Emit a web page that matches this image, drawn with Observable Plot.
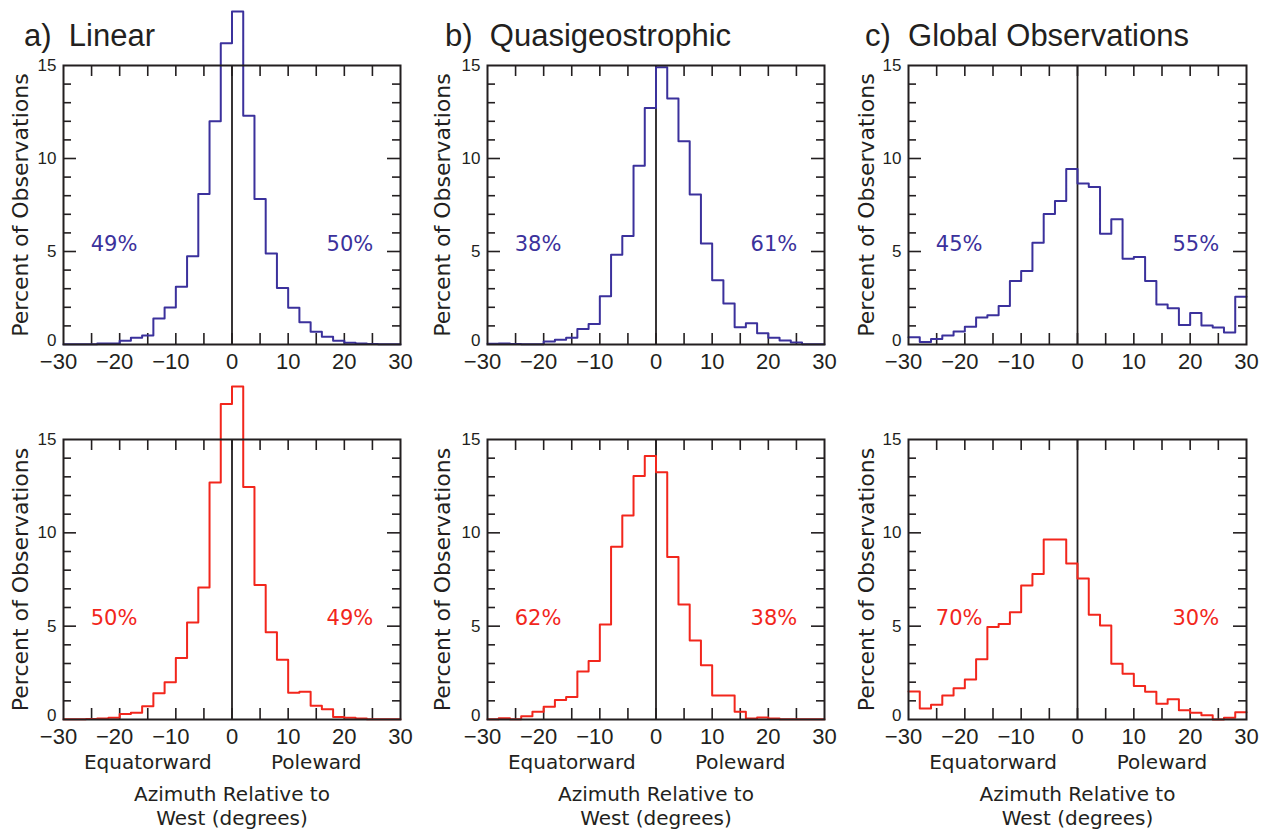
<!DOCTYPE html>
<html><head><meta charset="utf-8">
<script src="https://cdn.jsdelivr.net/npm/d3@7"></script>
<script src="https://cdn.jsdelivr.net/npm/@observablehq/plot@0.6"></script>
<style>
body{margin:0;background:#fff;}
#wrap{position:relative;width:1269px;height:830px;overflow:hidden;background:#fff;}
.panel{position:absolute;}
.title{position:absolute;font-family:"Liberation Sans",Arial,sans-serif;font-size:31px;line-height:30px;color:#231f20;white-space:pre;}
</style></head><body><div id="wrap"></div>
<script>
// ---- data ----
const binEdges = [-30,-28,-26,-24,-22,-20,-18,-16,-14,-12,-10,-8,-6,-4,-2,0,2,4,6,8,10,12,14,16,18,20,22,24,26,28,30];
const titles = ["a)  Linear", "b)  Quasigeostrophic", "c)  Global Observations"];
const topLinear = [0.02,0.02,0.02,0.06,0.06,0.2,0.36,0.48,1.4,1.99,3.1,4.74,8.09,12.0,16.2,17.9,12.3,7.82,4.89,3.04,1.97,1.2,0.68,0.41,0.2,0.09,0.05,0.03,0.02,0.02];
const topQG = [0.04,0.05,0.03,0.02,0.02,0.16,0.25,0.36,0.84,1.1,2.59,4.82,5.84,9.61,12.71,14.91,13.23,10.93,8.07,5.43,3.46,2.21,0.93,1.14,0.61,0.36,0.21,0.11,0.02,0.02];
const topGlobal = [0.39,0.13,0.3,0.48,0.7,0.95,1.45,1.57,2.07,3.41,3.95,5.47,7.01,7.72,9.44,8.65,8.47,5.95,6.74,4.61,4.7,3.41,2.15,1.95,1.05,1.7,1.02,0.91,0.64,2.57];
const botLinear = [0.02,0.02,0.03,0.05,0.09,0.29,0.36,0.71,1.41,2.0,3.3,5.2,7.07,12.7,16.9,17.84,12.46,7.21,4.68,3.2,1.43,1.48,0.73,0.55,0.13,0.09,0.05,0.02,0.02,0.02];
const botQG = [0.02,0.07,0.02,0.18,0.41,0.68,1.04,1.2,2.57,3.13,5.09,9.25,10.93,13.04,14.11,13.25,8.71,6.16,4.23,2.91,1.29,1.29,0.41,0.05,0.11,0.05,0.02,0.02,0.02,0.02];
const botGlobal = [1.5,0.59,0.79,1.29,1.68,2.14,3.23,4.95,5.11,5.75,7.18,7.79,9.64,9.64,8.36,7.55,5.61,5.04,2.98,2.45,1.79,1.48,0.84,1.09,0.5,0.36,0.23,0.0,0.09,0.39];
const topPct = [["49%","50%"],["38%","61%"],["45%","55%"]];
const botPct = [["50%","49%"],["62%","38%"],["70%","30%"]];
const xLabelTicks = [-30,-20,-10,0,10,20,30];
const xMinorTicks = [-25,-20,-15,-10,-5,0,5,10,15,20,25];
const yLabelTicks = [0,5,10,15];
const yMinorTicks = [1,2,3,4,6,7,8,9,11,12,13,14];
const yMajorTicks = [5,10];
const yLabel = "Percent of Observations";
const dirLabels = ["Equatorward","Poleward"];
const xTitle1 = "Azimuth Relative to";
const xTitle2 = "West (degrees)";

const BLUE = "#3b319c", RED = "#f2261c", INK = "#231f20";
const SANS = "Liberation Sans, Arial, sans-serif";
const DV = "DejaVu Sans, sans-serif";
const fmt = d => d < 0 ? "\u2212" + Math.abs(d) : String(d);

function panel({values, color, pct, bottom, marginLeft, marginRight, yLabelDx}) {
  const width = 423;
  const height = bottom ? 450 : 380;
  const marginTop = bottom ? 59 : 65;
  const marginBottom = bottom ? 111 : 36;
  const fw = width - marginLeft - marginRight;
  const fh = height - marginTop - marginBottom;
  const pts = binEdges.map((e, i) => ({x: e, y: values[Math.min(i, values.length - 1)]}));
  const axY = {anchor: "left", tickSize: 0, tickPadding: 7, fontSize: 17, tickFormat: fmt, label: null, fill: INK, fontFamily: SANS};
  const axX = {anchor: "bottom", tickSize: 0, tickPadding: 9, fontSize: 22, tickFormat: fmt, label: null, fill: INK, fontFamily: SANS};
  const marks = [
    Plot.ruleX(xMinorTicks, {x: d => d, insetBottom: fh - 11, stroke: INK, strokeWidth: 1.6}),
    Plot.ruleX(xMinorTicks, {x: d => d, insetTop: fh - 11, stroke: INK, strokeWidth: 1.6}),
    Plot.ruleY(yMinorTicks, {y: d => d, insetRight: fw - 8, stroke: INK, strokeWidth: 1.6}),
    Plot.ruleY(yMinorTicks, {y: d => d, insetLeft: fw - 8, stroke: INK, strokeWidth: 1.6}),
    Plot.ruleY(yMajorTicks, {y: d => d, insetRight: fw - 13, stroke: INK, strokeWidth: 1.6}),
    Plot.ruleY(yMajorTicks, {y: d => d, insetLeft: fw - 13, stroke: INK, strokeWidth: 1.6}),
    Plot.ruleX([0], {x: d => d, stroke: INK, strokeWidth: 1.8}),
    Plot.line(pts, {x: "x", y: "y", curve: "step-after", stroke: color, strokeWidth: 2}),
    Plot.frame({stroke: INK, strokeWidth: 2}),
    Plot.axisX({...axX, ticks: xLabelTicks.filter(d => d < 0), dx: -5}),
    Plot.axisX({...axX, ticks: xLabelTicks.filter(d => d >= 0)}),
    Plot.axisY({...axY, ticks: yLabelTicks.filter(d => d > 0)}),
    Plot.axisY({...axY, ticks: yLabelTicks.filter(d => d === 0), dy: -4}),
    Plot.text([yLabel], {frameAnchor: "left", textAnchor: "middle", lineAnchor: "middle", rotate: -90, dx: yLabelDx, fontSize: 22, fontFamily: DV, fill: INK}),
    Plot.text(pct, {x: (d, i) => i === 0 ? -21 : 21, y: () => 5.4, text: d => d, fill: color, fontSize: 21, fontFamily: DV})
  ];
  if (bottom) {
    marks.push(
      Plot.text(dirLabels, {x: (d, i) => i === 0 ? -15 : 15, frameAnchor: "bottom", lineAnchor: "middle", textAnchor: "middle", dy: 43, fontSize: 20, fontFamily: DV, fill: INK}),
      Plot.text([xTitle1], {frameAnchor: "bottom", lineAnchor: "middle", textAnchor: "middle", dy: 75, fontSize: 20, fontFamily: DV, fill: INK}),
      Plot.text([xTitle2], {frameAnchor: "bottom", lineAnchor: "middle", textAnchor: "middle", dy: 99, fontSize: 20, fontFamily: DV, fill: INK})
    );
  }
  return Plot.plot({
    width, height, marginTop, marginBottom, marginLeft, marginRight,
    x: {domain: [-30, 30], label: null},
    y: {domain: [0, 15], label: null},
    style: {background: "transparent", fontFamily: SANS, color: INK, overflow: "visible"},
    marks
  });
}

const wrap = document.getElementById("wrap");
const cols = [
  {left: 0, marginLeft: 63, marginRight: 23, titleX: 24, yLabelDx: -43},
  {left: 423, marginLeft: 64, marginRight: 22, titleX: 445, yLabelDx: -45},
  {left: 846, marginLeft: 62, marginRight: 23, titleX: 865, yLabelDx: -42}
];
const topVals = [topLinear, topQG, topGlobal];
const botVals = [botLinear, botQG, botGlobal];
cols.forEach((c, j) => {
  const t = panel({values: topVals[j], color: BLUE, pct: topPct[j], bottom: false, marginLeft: c.marginLeft, marginRight: c.marginRight, yLabelDx: c.yLabelDx});
  t.classList.add("panel"); t.style.left = c.left + "px"; t.style.top = "0px";
  wrap.appendChild(t);
  const b = panel({values: botVals[j], color: RED, pct: botPct[j], bottom: true, marginLeft: c.marginLeft, marginRight: c.marginRight, yLabelDx: c.yLabelDx});
  b.classList.add("panel"); b.style.left = c.left + "px"; b.style.top = "380px";
  wrap.appendChild(b);
  const ttl = document.createElement("div");
  ttl.className = "title"; ttl.textContent = titles[j];
  ttl.style.left = c.titleX + "px"; ttl.style.top = "21px";
  wrap.appendChild(ttl);
});
</script></body></html>
